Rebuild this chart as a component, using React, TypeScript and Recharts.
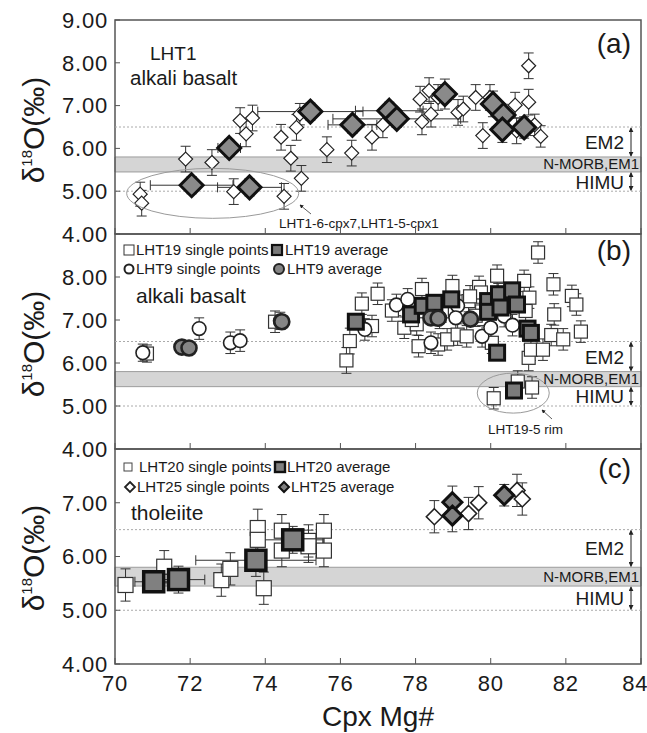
import React from 'react';
import {
  ScatterChart,
  Scatter,
  XAxis,
  YAxis,
  ErrorBar,
  ReferenceLine,
  ReferenceArea,
} from 'recharts';

const W = 647;
const H = 733;
const PL = 115; // plot left
const PR = 641; // plot right
const FONT = "'Liberation Sans', Arial, Helvetica, sans-serif";

// Cpx Mg# axis
const xTicks = [70, 72, 74, 76, 78, 80, 82, 84];

// mantle reference ranges (delta18O, permil)
const morbBand = [5.45, 5.8];
const em2Top = 6.5;
const himuBottom = 5.0;

// (a) LHT1 alkali basalt  [Mg#, d18O, sd18O]
const lht1Single = [
  [70.67, 4.93, 0.28], [70.71, 4.72, 0.3], [71.88, 5.75, 0.3], [72.58, 5.67, 0.3],
  [73.16, 4.99, 0.3], [73.33, 6.65, 0.3], [73.49, 6.34, 0.3], [73.66, 6.71, 0.3],
  [74.42, 6.26, 0.3], [74.5, 4.88, 0.3], [74.68, 5.77, 0.3], [74.83, 6.49, 0.3],
  [74.92, 6.8, 0.25], [74.96, 5.3, 0.3], [75.64, 5.97, 0.3], [76.3, 5.89, 0.3],
  [76.84, 6.26, 0.3], [77.13, 6.55, 0.3], [78.12, 7.15, 0.3], [78.17, 6.62, 0.3],
  [78.36, 7.35, 0.3], [78.41, 6.8, 0.3], [78.6, 7.19, 0.3], [79.13, 6.84, 0.3],
  [79.27, 6.92, 0.3], [79.6, 7.19, 0.3], [79.79, 6.3, 0.3], [79.98, 7.19, 0.3],
  [80.65, 7.01, 0.3], [80.69, 6.41, 0.3], [81.01, 7.93, 0.3], [81.01, 7.08, 0.3],
  [81.17, 6.55, 0.25], [81.33, 6.28, 0.25],
];
// [Mg#, d18O, sMg#, sd18O]
const lht1Avg = [
  [72.04, 5.14, 1.1, 0.2], [73.04, 6.01, 0.3, 0.2], [73.58, 5.09, 0.85, 0.2],
  [75.2, 6.86, 1.4, 0.2], [76.32, 6.55, 0.65, 0.2], [77.3, 6.88, 0.9, 0.2],
  [77.5, 6.69, 1.7, 0.2], [78.78, 7.27, 0, 0.35], [80.06, 7.04, 0, 0.3],
  [80.34, 6.78, 0, 0.25], [80.31, 6.44, 0, 0.3], [80.89, 6.49, 0, 0.25],
];

// (b) LHT19 / LHT9 alkali basalt
const lht19Single = [
  [70.85, 6.22, 0.2], [74.26, 6.96, 0.25], [76.16, 6.06, 0.3], [76.25, 6.51, 0.3],
  [76.57, 7.38, 0.25], [76.84, 6.86, 0.25], [76.99, 7.61, 0.25], [77.37, 7.22, 0.25],
  [77.7, 6.82, 0.25], [78.03, 6.9, 0.25], [78.08, 6.39, 0.25], [78.17, 7.72, 0.25],
  [78.6, 6.43, 0.25], [78.84, 6.55, 0.25], [78.98, 7.79, 0.25], [79.12, 6.66, 0.25],
  [79.36, 6.62, 0.25], [79.41, 7.44, 0.25], [79.69, 7.77, 0.25], [79.74, 7.64, 0.25],
  [80.17, 8.03, 0.25], [80.03, 6.47, 0.25], [80.89, 7.91, 0.25], [81.03, 7.52, 0.25],
  [81.01, 6.12, 0.3], [81.07, 6.31, 0.25], [80.93, 7.21, 0.25], [81.26, 8.57, 0.25],
  [81.39, 6.31, 0.25], [81.67, 7.83, 0.25], [81.69, 7.13, 0.25], [81.61, 6.65, 0.25],
  [81.93, 6.55, 0.25], [82.16, 7.56, 0.25], [82.28, 7.36, 0.25], [82.4, 6.73, 0.25],
  [80.08, 5.18, 0.25], [80.72, 5.57, 0.25], [81.1, 5.43, 0.25], [77.9, 7.0, 0.25],
  [78.7, 7.2, 0.25], [79.45, 7.55, 0.25], [80.2, 7.6, 0.25], [79.6, 7.1, 0.25],
];
const lht9Single = [
  [70.74, 6.24, 0.2], [72.24, 6.8, 0.25], [73.07, 6.47, 0.25], [73.33, 6.52, 0.25],
  [74.4, 6.98, 0.2], [76.65, 6.78, 0.25], [77.49, 7.35, 0.25], [77.79, 7.48, 0.25],
  [78.41, 6.47, 0.25], [79.12, 7.33, 0.25], [78.64, 7.05, 0.25], [79.07, 7.05, 0.25],
  [79.77, 6.62, 0.25], [80.0, 6.82, 0.25], [80.36, 7.09, 0.25], [80.58, 6.88, 0.25],
];
const lht19Avg = [
  [76.41, 6.96], [77.88, 7.13], [78.19, 7.33], [78.5, 7.4], [78.95, 7.48],
  [79.93, 7.44], [79.93, 7.19], [80.22, 7.6], [80.26, 7.29], [80.57, 7.69],
  [80.7, 7.36], [80.98, 6.8], [81.07, 6.7], [80.17, 6.24], [80.62, 5.36],
];
const lht9Avg = [
  [71.78, 6.37], [71.97, 6.35], [74.44, 6.96], [78.41, 7.05], [78.6, 7.04], [79.46, 7.02],
];

// (c) LHT20 / LHT25 tholeiite
const lht20Single = [
  [70.28, 5.47, 0.3], [71.31, 5.81, 0.3], [72.83, 5.56, 0.3], [73.07, 5.77, 0.3],
  [73.8, 6.53, 0.35], [73.8, 6.31, 0.3], [73.96, 5.41, 0.3], [74.44, 6.48, 0.3],
  [74.44, 6.11, 0.3], [75.15, 6.29, 0.3], [75.15, 6.19, 0.3], [75.56, 6.48, 0.3],
  [75.56, 6.11, 0.3],
];
const lht20Avg = [
  [71.03, 5.53, 0.5, 0.2], [71.69, 5.57, 0.7, 0.25], [73.75, 5.93, 1.6, 0.3], [74.73, 6.31, 0.8, 0.25],
];
const lht25Single = [
  [78.5, 6.74, 0.3], [79.41, 6.8, 0.3], [79.68, 7.0, 0.3], [80.7, 7.23, 0.3], [80.84, 7.07, 0.3],
];
const lht25Avg = [
  [78.98, 7.01, 0.3], [78.98, 6.76, 0.3], [80.36, 7.14, 0.2],
];

const pts = (rows: number[][]) => rows.map(([x, y, e]) => ({ x, y, ey: e ?? 0 }));
const avgPts = (rows: number[][]) =>
  rows.map(([x, y, ex, ey]) => ({ x, y, ex: ex ?? 0, ey: ey ?? 0 }));

type P = { cx?: number; cy?: number };

const diamond = (r: number, fill: string, stroke: string, sw: number) => (p: P) => {
  if (p.cx == null || p.cy == null) return <g />;
  const { cx, cy } = p;
  return (
    <path
      d={`M${cx},${cy - r}L${cx + r},${cy}L${cx},${cy + r}L${cx - r},${cy}Z`}
      fill={fill}
      stroke={stroke}
      strokeWidth={sw}
    />
  );
};
const square = (h: number, fill: string, stroke: string, sw: number) => (p: P) => {
  if (p.cx == null || p.cy == null) return <g />;
  return (
    <rect x={p.cx - h} y={p.cy - h} width={2 * h} height={2 * h} fill={fill} stroke={stroke} strokeWidth={sw} />
  );
};
const circle = (r: number, fill: string, stroke: string, sw: number) => (p: P) => {
  if (p.cx == null || p.cy == null) return <g />;
  return <circle cx={p.cx} cy={p.cy} r={r} fill={fill} stroke={stroke} strokeWidth={sw} />;
};

const tickStyle = { fontSize: 22, fill: '#1a1a1a', fontFamily: FONT, letterSpacing: 0.8 };

interface PanelProps {
  top: number;
  bottom: number;
  yDomain: [number, number];
  yTicks: number[];
  showX: boolean;
  children: React.ReactNode;
}

const YW = 60;
const XH = 40;

function Panel({ top, bottom, yDomain, yTicks, showX, children }: PanelProps) {
  return (
    <div style={{ position: 'absolute', left: 0, top: 0 }}>
      <ScatterChart
        width={W}
        height={H}
        margin={{ top, right: W - PR, bottom: H - bottom - XH, left: PL - YW }}
      >
        <XAxis
          type="number"
          dataKey="x"
          domain={[70, 84]}
          ticks={xTicks}
          height={XH}
          allowDataOverflow
          axisLine={false}
          tickSize={-6}
          tickMargin={17}
          tickLine={{ stroke: '#555' }}
          tick={showX ? tickStyle : { ...tickStyle, fill: 'none' }}
          tickFormatter={(v: number) => (showX ? String(v) : '')}
        />
        <YAxis
          type="number"
          dataKey="y"
          domain={yDomain}
          ticks={yTicks}
          width={YW}
          allowDataOverflow
          axisLine={false}
          tickSize={-5}
          tickMargin={12}
          tickLine={{ stroke: '#555' }}
          tick={tickStyle}
          tickFormatter={(v: number) => v.toFixed(2)}
        />
        <ReferenceArea
          y1={morbBand[0]}
          y2={morbBand[1]}
          fill="#d5d5d5"
          fillOpacity={1}
          stroke="#9c9c9c"
          strokeWidth={1}
        />
        <ReferenceLine y={em2Top} stroke="#aaa" strokeDasharray="2 2" />
        <ReferenceLine y={himuBottom} stroke="#aaa" strokeDasharray="2 2" />
        {children}
        <ReferenceArea
          x1={70}
          x2={84}
          y1={yDomain[0]}
          y2={yDomain[1]}
          fill="none"
          stroke="#555"
          strokeWidth={1.5}
        />
      </ScatterChart>
    </div>
  );
}

const eb = { stroke: '#333', strokeWidth: 1 };

// annotation helpers (data -> page pixels)
const sx = (v: number) => PL + ((v - 70) * (PR - PL)) / 14;
const syA = (v: number) => 20 + (9 - v) * 42.8;
const syB = (v: number) => 234 + (9 - v) * 43;
const syC = (v: number) => 449 + (8 - v) * 53.75;

function RefLabels({ sy }: { sy: (v: number) => number }) {
  const ax = 631;
  return (
    <g fontFamily={FONT} fill="#1a1a1a">
      <text x={624} y={(sy(em2Top) + sy(morbBand[1])) / 2 + 7} fontSize={19} textAnchor="end">EM2</text>
      <text x={639} y={(sy(morbBand[0]) + sy(morbBand[1])) / 2 + 5} fontSize={15} textAnchor="end">N-MORB,EM1</text>
      <text x={624} y={(sy(morbBand[0]) + sy(himuBottom)) / 2 + 7} fontSize={19} textAnchor="end">HIMU</text>
      <line x1={ax} x2={ax} y1={sy(em2Top) + 1} y2={sy(morbBand[1]) - 1} stroke="#222" strokeWidth={1} markerStart="url(#ah)" markerEnd="url(#ah)" />
      <line x1={ax} x2={ax} y1={sy(morbBand[0]) + 1} y2={sy(himuBottom) - 1} stroke="#222" strokeWidth={1} markerStart="url(#ah)" markerEnd="url(#ah)" />
    </g>
  );
}

function YTitle({ cy }: { cy: number }) {
  return (
    <text transform={`translate(44,${cy}) rotate(-90)`} textAnchor="middle" fontSize={30} fill="#1a1a1a" fontFamily={FONT}>
      δ<tspan dy={-12} fontSize={15}>18</tspan>
      <tspan dy={12}>O(‰)</tspan>
    </text>
  );
}

export default function App() {
  return (
    <div style={{ position: 'absolute', left: 0, top: 0, width: W, height: H, background: '#fff' }}>
      {/* (a) */}
      <Panel top={20} bottom={234} yDomain={[4, 9]} yTicks={[4, 5, 6, 7, 8, 9]} showX={false}>
        <Scatter data={pts(lht1Single)} shape={diamond(7, '#fff', '#222', 1.2)} isAnimationActive={false}>
          <ErrorBar dataKey="ey" direction="y" width={5} {...eb} />
        </Scatter>
        <Scatter data={avgPts(lht1Avg)} shape={diamond(11.5, '#8a8a8a', '#111', 3)} isAnimationActive={false}>
          <ErrorBar dataKey="ex" direction="x" width={5} {...eb} />
          <ErrorBar dataKey="ey" direction="y" width={5} {...eb} />
        </Scatter>
      </Panel>

      {/* (b) */}
      <Panel top={234} bottom={449} yDomain={[4, 9]} yTicks={[4, 5, 6, 7, 8]} showX={false}>
        <Scatter data={pts(lht19Single)} shape={square(6.5, '#fff', '#333', 1.2)} isAnimationActive={false}>
          <ErrorBar dataKey="ey" direction="y" width={5} {...eb} />
        </Scatter>
        <Scatter data={pts(lht9Single)} shape={circle(6.8, '#fff', '#222', 1.6)} isAnimationActive={false}>
          <ErrorBar dataKey="ey" direction="y" width={5} {...eb} />
        </Scatter>
        <Scatter data={avgPts(lht19Avg)} shape={square(7.5, '#7a7a7a', '#111', 3)} isAnimationActive={false} />
        <Scatter data={avgPts(lht9Avg)} shape={circle(7.5, '#858585', '#222', 2.6)} isAnimationActive={false} />
      </Panel>

      {/* (c) */}
      <Panel top={449} bottom={664} yDomain={[4, 8]} yTicks={[4, 5, 6, 7]} showX>
        <Scatter data={pts(lht20Single)} shape={square(7.5, '#fff', '#333', 1.2)} isAnimationActive={false}>
          <ErrorBar dataKey="ey" direction="y" width={5} {...eb} />
        </Scatter>
        <Scatter data={avgPts(lht20Avg)} shape={square(10, '#808080', '#111', 3.5)} isAnimationActive={false}>
          <ErrorBar dataKey="ex" direction="x" width={5} {...eb} />
          <ErrorBar dataKey="ey" direction="y" width={5} {...eb} />
        </Scatter>
        <Scatter data={pts(lht25Single)} shape={diamond(8, '#fff', '#222', 1.6)} isAnimationActive={false}>
          <ErrorBar dataKey="ey" direction="y" width={5} {...eb} />
        </Scatter>
        <Scatter data={pts(lht25Avg)} shape={diamond(9.5, '#808080', '#111', 3)} isAnimationActive={false}>
          <ErrorBar dataKey="ey" direction="y" width={5} {...eb} />
        </Scatter>
      </Panel>

      <svg width={W} height={H} style={{ position: 'absolute', left: 0, top: 0, pointerEvents: 'none' }}>
        <defs>
          <marker id="ah" viewBox="0 0 6 6" refX={5} refY={3} markerWidth={5} markerHeight={5} orient="auto-start-reverse">
            <path d="M0,0L6,3L0,6Z" fill="#222" />
          </marker>
        </defs>

        <YTitle cy={130} />
        <YTitle cy={344} />
        <YTitle cy={558} />
        <text x={(PL + PR) / 2} y={726} textAnchor="middle" fontSize={28} fill="#1a1a1a" fontFamily={FONT}>
          Cpx Mg#
        </text>

        {/* (a) */}
        <g fontFamily={FONT} fill="#1a1a1a">
          <text x={150} y={60} fontSize={19}>LHT1</text>
          <text x={130} y={85} fontSize={20.5}>alkali basalt</text>
          <text x={631} y={53} fontSize={28} textAnchor="end">(a)</text>
          <text x={279} y={228} fontSize={13.5}>LHT1-6-cpx7,LHT1-5-cpx1</text>
        </g>
        <ellipse cx={sx(72.6)} cy={syA(4.95)} rx={86} ry={25} fill="none" stroke="#9a9a9a" strokeWidth={1} />
        <line x1={311} y1={214} x2={300} y2={205} stroke="#333" strokeWidth={0.8} markerEnd="url(#ah)" />
        <RefLabels sy={syA} />

        {/* (b) */}
        <g fontFamily={FONT} fill="#1a1a1a" fontSize={15}>
          <rect x={124} y={245} width={10} height={10} fill="#fff" stroke="#333" strokeWidth={1} />
          <text x={136} y={255}>LHT19 single points</text>
          <rect x={272} y={245} width={10} height={10} fill="#7a7a7a" stroke="#111" strokeWidth={2.2} />
          <text x={285} y={255}>LHT19 average</text>
          <circle cx={129} cy={269} r={4.5} fill="#fff" stroke="#222" strokeWidth={2} />
          <text x={136} y={274}>LHT9 single points</text>
          <circle cx={279} cy={269} r={5} fill="#858585" stroke="#222" strokeWidth={2} />
          <text x={287} y={274}>LHT9 average</text>
          <text x={136} y={303} fontSize={21}>alkali basalt</text>
          <text x={631} y={260} fontSize={28} textAnchor="end">(b)</text>
          <text x={488} y={434} fontSize={13.5}>LHT19-5 rim</text>
        </g>
        <ellipse cx={sx(80.6)} cy={syB(5.3)} rx={36} ry={20} fill="none" stroke="#9a9a9a" strokeWidth={1} />
        <line x1={552} y1={419} x2={542} y2={410} stroke="#333" strokeWidth={0.8} markerEnd="url(#ah)" />
        <RefLabels sy={syB} />

        {/* (c) */}
        <g fontFamily={FONT} fill="#1a1a1a" fontSize={15}>
          <rect x={124} y={463} width={8} height={8} fill="#fff" stroke="#444" strokeWidth={1} />
          <text x={139} y={472}>LHT20 single points</text>
          <rect x={275} y={462} width={10} height={10} fill="#808080" stroke="#111" strokeWidth={2.4} />
          <text x={287} y={472}>LHT20 average</text>
          <path d="M130,482L135,487L130,492L125,487Z" fill="#fff" stroke="#222" strokeWidth={1.8} />
          <text x={137} y={492}>LHT25 single points</text>
          <path d="M284,482L289,487L284,492L279,487Z" fill="#808080" stroke="#111" strokeWidth={2} />
          <text x={291} y={492}>LHT25 average</text>
          <text x={131} y={520} fontSize={21}>tholeiite</text>
          <text x={631} y={478} fontSize={28} textAnchor="end">(c)</text>
        </g>
        <RefLabels sy={syC} />
      </svg>
    </div>
  );
}
